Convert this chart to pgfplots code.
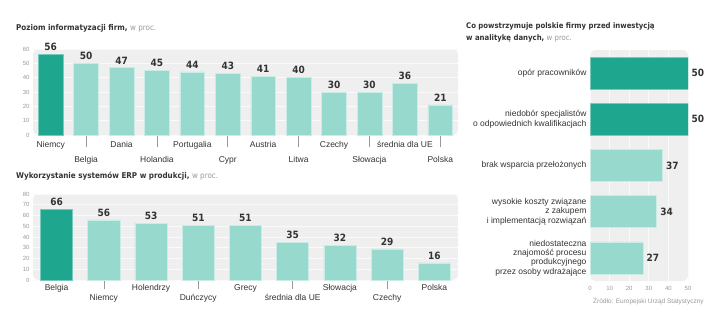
\documentclass[border=0pt]{standalone}
\usepackage{pgfplots}
\pgfplotsset{compat=1.18}
\usepackage{fontspec}
\setmainfont{Liberation Sans}
\newfontfamily\valfont{DejaVu Sans Condensed}
\newfontfamily\condfont{DejaVu Sans Condensed}
\definecolor{dark}{HTML}{1EA68F}
\definecolor{light}{HTML}{98D9CE}
\definecolor{panel}{HTML}{EFEFEF}
\definecolor{gridc}{HTML}{FAFAFA}
\definecolor{txt}{HTML}{333333}
\definecolor{tickc}{HTML}{999999}
\tikzset{catlab/.style={font=\fontsize{8.5}{9.5}\selectfont, text=txt}}
\pgfplotsset{
  panel/.style={
    scale only axis,
    axis line style={draw=none},
    axis background/.style={fill=panel, rounded corners=5pt},
    grid style={gridc, line width=0.7pt},
    major tick length=0pt,
    tick align=outside,
    tick pos=left,
    tick style={tickc, line width=0.6pt},
    tick label style={font=\fontsize{6}{7}\selectfont, text=tickc},
    nodes near coords,
    every node near coord/.style={font=\valfont\bfseries\fontsize{10}{12}\selectfont, text=txt},
    /pgf/number format/assume math mode=true,
  },
  darkbar/.style={fill=dark, draw=dark!60!white, line width=0.6pt},
  lightbar/.style={fill=light, draw=light!50!white, line width=0.6pt},
}
\begin{document}
\begin{tikzpicture}
\path[use as bounding box] (0,0) rectangle (720pt,327pt);
% Chart 1
\node[anchor=base west, inner sep=0pt, text=txt, font=\fontsize{8}{10}\selectfont] at (16pt,296pt) {\condfont\bfseries Poziom informatyzacji firm,\ {\mdseries\color{tickc}w proc.}};
\begin{axis}[panel, at={(33pt,192pt)}, anchor=south west, width=425pt, height=86pt,
  xmin=-0.5, xmax=11.5, ymin=0, ymax=60, ytick={0,10,...,60}, ymajorgrids,
  ybar, bar shift=0pt, bar width=0.7,
  xtick={0,2,...,10},
  xticklabels={Niemcy,Dania,Portugalia,Austria,Czechy,średnia dla UE},
  xticklabel style={catlab, yshift=-3pt},
  extra x ticks={1,3,...,11},
  extra x tick labels={Belgia,Holandia,Cypr,Litwa,Słowacja,Polska},
  extra x tick style={major tick length=12pt, xticklabel style={catlab, yshift=-3pt}},
  ]
\addplot[darkbar] coordinates {(0,56)};
\addplot[lightbar] coordinates {(1,50) (2,47) (3,45) (4,44) (5,43) (6,41) (7,40) (8,30) (9,30) (10,36) (11,21)};
\end{axis}
% Chart 2
\node[anchor=base west, inner sep=0pt, text=txt, font=\fontsize{8}{10}\selectfont] at (16pt,149pt) {\condfont\bfseries Wykorzystanie systemów ERP w produkcji,\ {\mdseries\color{tickc}w proc.}};
\begin{axis}[panel, at={(33pt,47pt)}, anchor=south west, width=425pt, height=86pt,
  xmin=-0.5, xmax=8.5, ymin=0, ymax=80, ytick={0,10,...,80}, ymajorgrids,
  ybar, bar shift=0pt, bar width=0.68,
  xtick={0,2,...,8},
  xticklabels={Belgia,Holendrzy,Grecy,Słowacja,Polska},
  xticklabel style={catlab, yshift=-1pt},
  extra x ticks={1,3,5,7},
  extra x tick labels={Niemcy,Duńczycy,średnia dla UE,Czechy},
  extra x tick style={major tick length=9pt, xticklabel style={catlab, yshift=-1pt}},
  ]
\addplot[darkbar] coordinates {(0,66)};
\addplot[lightbar] coordinates {(1,56) (2,53) (3,51) (4,51) (5,35) (6,32) (7,29) (8,16)};
\end{axis}
% Chart 3
\node[anchor=north west, inner sep=0pt, align=left, text=txt, font=\fontsize{7.7}{12}\selectfont\condfont\bfseries] at (466pt,305pt) {Co powstrzymuje polskie firmy przed inwestycją\\w analitykę danych,\ {\mdseries\color{tickc}w proc.}};
\begin{axis}[panel, at={(590pt,46pt)}, anchor=south west, width=98pt, height=231pt,
  xmin=0, xmax=50, ymin=-0.5, ymax=4.5, y dir=reverse, xtick={0,10,...,50}, xmajorgrids,
  xbar, bar shift=0pt, bar width=0.69, point meta=x,
  ytick={0,...,4},
  yticklabels={opór pracowników, niedobór specjalistów\\o odpowiednich kwalifikacjach, brak wsparcia przełożonych, wysokie koszty związane\\z zakupem\\i implementacją rozwiązań, niedostateczna\\znajomość procesu\\produkcyjnego\\przez osoby wdrażające},
  yticklabel style={text=txt, align=right, font=\fontsize{8.5}{9.3}\selectfont},
  xticklabel style={yshift=-2pt},
  ]
\addplot[darkbar] coordinates {(50,0) (50,1)};
\addplot[lightbar] coordinates {(37,2) (34,3) (27,4)};
\end{axis}
\node[anchor=base west, inner sep=0pt, text=tickc] at (593pt,24pt) {\fontsize{6.5}{7}\selectfont Źródło: Europejski Urząd Statystyczny};
\end{tikzpicture}
\end{document}
